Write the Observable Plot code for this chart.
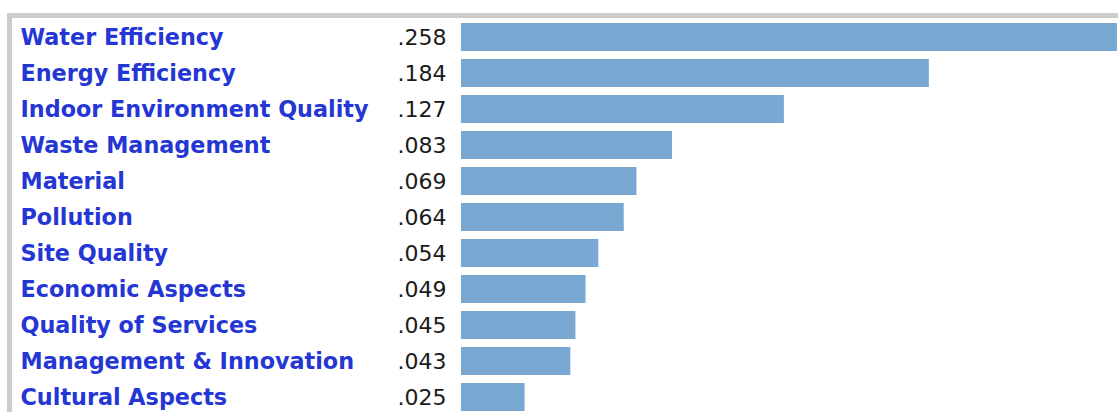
<!DOCTYPE html>
<html><head><meta charset="utf-8">
<script src="https://cdn.jsdelivr.net/npm/d3@7"></script>
<script src="https://cdn.jsdelivr.net/npm/@observablehq/plot@0.6"></script>
<style>
body{margin:0;background:#fff;}
#wrap{position:relative;width:1118px;height:412px;overflow:hidden;background:#fff;}
#wrap svg{position:absolute;left:0;top:0;}
#frame{position:absolute;left:7px;top:13px;right:-10px;bottom:-10px;border-top:5px solid #cccccc;border-left:5px solid #cccccc;pointer-events:none;}
</style></head><body><div id="wrap"></div>
<script>
const categories = ["Water Efficiency","Energy Efficiency","Indoor Environment Quality","Waste Management","Material","Pollution","Site Quality","Economic Aspects","Quality of Services","Management & Innovation","Cultural Aspects"];
const values = [0.258,0.184,0.127,0.083,0.069,0.064,0.054,0.049,0.045,0.043,0.025];
const valueLabels = [".258",".184",".127",".083",".069",".064",".054",".049",".045",".043",".025"];

const data = categories.map((c,i)=>({category:c, value:values[i], label:valueLabels[i]}));

const chart = Plot.plot({
  width:1118, height:412,
  marginLeft:461, marginRight:1, marginTop:0, marginBottom:0,
  style:{background:"transparent", fontFamily:"'DejaVu Sans', sans-serif"},
  x:{domain:[0,0.258], range:[461,1117], axis:null},
  y:{domain:categories, range:[18.15,415.25], paddingInner:0.224, paddingOuter:0.112, axis:null},
  marks:[
    Plot.barX(data,{x:"value", y:"category", fill:"#79a9d3"}),
    Plot.text(data,{y:"category", text:"category", frameAnchor:"left", dx:-441, textAnchor:"start", fill:"#2436d4", fontSize:22.3, fontWeight:"bold"}),
    Plot.text(data,{y:"category", text:"label", frameAnchor:"left", dx:-15, textAnchor:"end", fill:"#1a1a1a", fontSize:22})
  ]
});
const wrap = document.getElementById("wrap");
wrap.appendChild(chart);
const frame = document.createElement("div");
frame.id = "frame";
wrap.appendChild(frame);
</script></body></html>
